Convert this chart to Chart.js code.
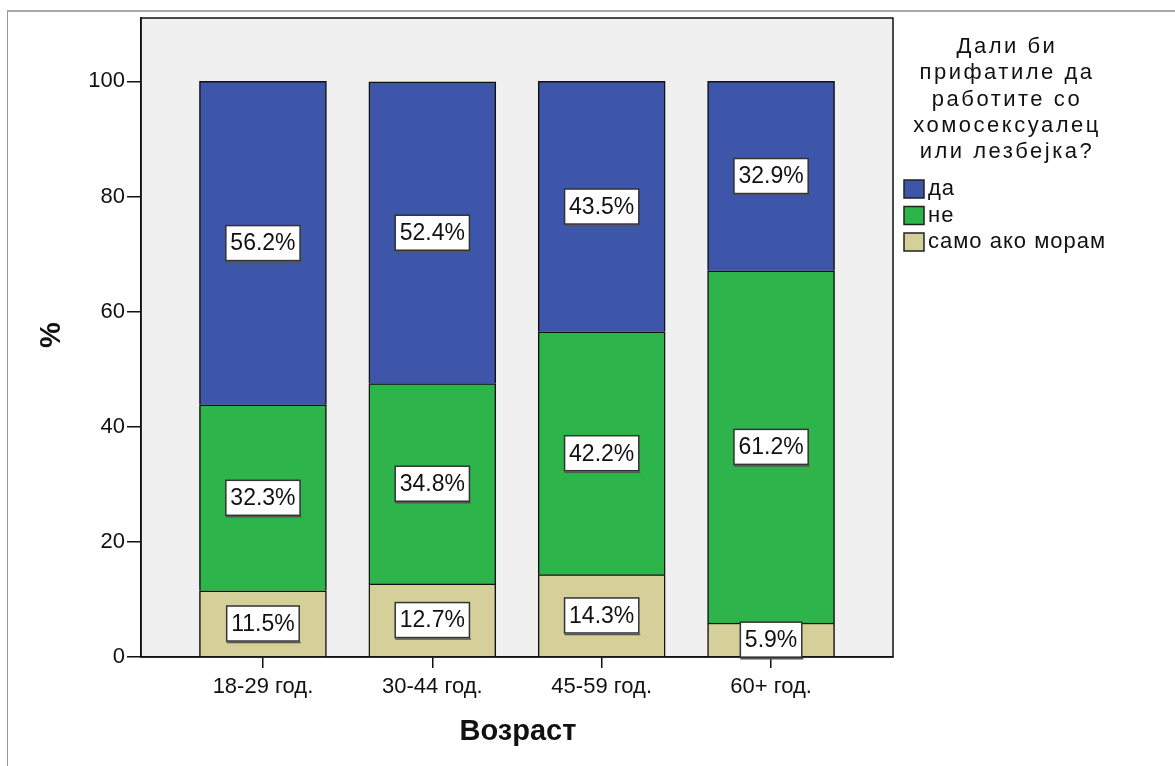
<!DOCTYPE html>
<html>
<head>
<meta charset="utf-8">
<script src="https://cdn.jsdelivr.net/npm/chart.js@4.4.1/dist/chart.umd.min.js"></script>
<style>
  html, body { margin: 0; padding: 0; background: #fff; }
  #wrap { position: relative; width: 1175px; height: 766px; }
  #frame { position: absolute; left: 7px; top: 10px; right: 0; bottom: 0;
           border-top: 2px solid #a8a8a8; border-left: 1px solid #9a9a9a; }
  canvas { position: absolute; left: 0; top: 0; }
</style>
</head>
<body>
<div id="wrap">
  <div id="frame"></div>
  <canvas id="grafico" width="1175" height="766"></canvas>
</div>
<script>
// Categorias e valores (%)
const categorias = ["18-29 год.", "30-44 год.", "45-59 год.", "60+ год."];
const samoAkoMoram = [11.5, 12.7, 14.3, 5.9];
const ne = [32.3, 34.8, 42.2, 61.2];
const da = [56.2, 52.4, 43.5, 32.9];
const yTicks = [0, 20, 40, 60, 80, 100];

const legendaTitulo = ["Дали би", "прифатиле да", "работите со", "хомосексуалец", "или лезбејка?"];
const legendaItens = ["да", "не", "само ако морам"];

const cores = { da: "#3d56aa", ne: "#2db54b", samo: "#d5cf99" };
const fonte = "Arial, 'Liberation Sans', sans-serif";

// Fundo cinza da área do gráfico
const fundoPlugin = {
    id: "fundo",
    beforeDraw(chart) {
        const { ctx, chartArea: a } = chart;
        ctx.save();
        ctx.fillStyle = "#f0f0f0";
        ctx.fillRect(a.left, a.top, a.right - a.left, a.bottom - a.top);
        ctx.restore();
    },
    afterDatasetsDraw(chart) {
        const { ctx, chartArea: a } = chart;
        ctx.save();
        ctx.strokeStyle = "#111";
        ctx.lineWidth = 1.5;
        ctx.strokeRect(a.left, a.top, a.right - a.left, a.bottom - a.top);
        ctx.restore();
    }
};

// Rótulos com caixa branca no centro de cada segmento
const rotulosPlugin = {
    id: "rotulos",
    afterDatasetsDraw(chart) {
        const ctx = chart.ctx;
        ctx.save();
        ctx.font = "23px " + fonte;
        ctx.textAlign = "center";
        ctx.textBaseline = "middle";
        chart.data.datasets.forEach((ds, i) => {
            const meta = chart.getDatasetMeta(i);
            meta.data.forEach((bar, j) => {
                const p = bar.getProps(["x", "y", "base"], true);
                const cy = (p.y + p.base) / 2;
                const txt = ds.data[j].toFixed(1) + "%";
                const w = ctx.measureText(txt).width + 9;
                const h = 35;
                ctx.fillStyle = "#fff";
                ctx.fillRect(p.x - w / 2, cy - h / 2, w, h);
                ctx.strokeStyle = "#333";
                ctx.lineWidth = 1.5;
                ctx.strokeRect(p.x - w / 2, cy - h / 2, w, h);
                // sombra leve em baixo
                ctx.strokeStyle = "#555";
                ctx.beginPath();
                ctx.moveTo(p.x - w / 2, cy + h / 2 + 1.5);
                ctx.lineTo(p.x + w / 2 + 1.5, cy + h / 2 + 1.5);
                ctx.stroke();
                ctx.fillStyle = "#111";
                ctx.fillText(txt, p.x, cy + 1);
            });
        });
        ctx.restore();
    }
};

// Títulos dos eixos e legenda
const textosPlugin = {
    id: "textos",
    afterDraw(chart) {
        const ctx = chart.ctx;
        ctx.save();
        ctx.fillStyle = "#111";
        ctx.textAlign = "center";
        ctx.textBaseline = "middle";
        ctx.font = "bold 29px " + fonte;
        ctx.fillText("Возраст", 518, 732);
        ctx.save();
        ctx.translate(52, 335);
        ctx.rotate(-Math.PI / 2);
        ctx.fillText("%", 0, 0);
        ctx.restore();

        // legenda
        ctx.font = "22px " + fonte;
        ctx.letterSpacing = "2.5px";
        legendaTitulo.forEach((linha, i) => {
            ctx.fillText(linha, 1007, 47 + i * 26.3);
        });
        ctx.letterSpacing = "1px";
        ctx.font = "22px " + fonte;
        ctx.textAlign = "left";
        const coresLeg = [cores.da, cores.ne, cores.samo];
        legendaItens.forEach((item, i) => {
            const y = 180 + i * 26.5;
            ctx.fillStyle = coresLeg[i];
            ctx.fillRect(904, y, 20, 18);
            ctx.strokeStyle = "#222";
            ctx.lineWidth = 1.5;
            ctx.strokeRect(904, y, 20, 18);
            ctx.fillStyle = "#111";
            ctx.fillText(item, 928, y + 9);
        });
        ctx.restore();
    }
};

const posicoes = categorias.map((_, i) => i);

new Chart(document.getElementById("grafico"), {
    type: "bar",
    data: {
        labels: posicoes,
        datasets: [
            { label: legendaItens[2], data: samoAkoMoram, backgroundColor: cores.samo },
            { label: legendaItens[1], data: ne, backgroundColor: cores.ne },
            { label: legendaItens[0], data: da, backgroundColor: cores.da }
        ].map(ds => Object.assign(ds, { borderColor: "#111", borderWidth: 1.5, barThickness: 127 }))
    },
    options: {
        responsive: false,
        animation: false,
        layout: { padding: { top: 18, right: 282, left: 0, bottom: 0 } },
        plugins: { legend: { display: false }, tooltip: { enabled: false } },
        scales: {
            x: {
                type: "linear",
                stacked: true,
                offset: false,
                min: -0.72,
                max: 3.72,
                afterFit(scale) { scale.height = 109; },
                afterBuildTicks(scale) { scale.ticks = posicoes.map(v => ({ value: v })); },
                ticks: {
                    callback: v => categorias[v],
                    font: { family: fonte, size: 22 },
                    color: "#111",
                    padding: 6,
                    maxRotation: 0
                },
                grid: { offset: false, drawOnChartArea: false, tickLength: 11, color: "#111", lineWidth: 1.5 },
                border: { color: "#111", width: 1.5 }
            },
            y: {
                stacked: true,
                min: 0,
                max: 111,
                afterFit(scale) { scale.width = 141; },
                afterBuildTicks(scale) { scale.ticks = yTicks.map(v => ({ value: v })); },
                ticks: {
                    font: { family: fonte, size: 22 },
                    color: "#111",
                    padding: 2
                },
                grid: { drawOnChartArea: false, tickLength: 14, color: "#111", lineWidth: 1.5 },
                border: { color: "#111", width: 1.5 }
            }
        }
    },
    plugins: [fundoPlugin, rotulosPlugin, textosPlugin]
});
</script>
</body>
</html>
